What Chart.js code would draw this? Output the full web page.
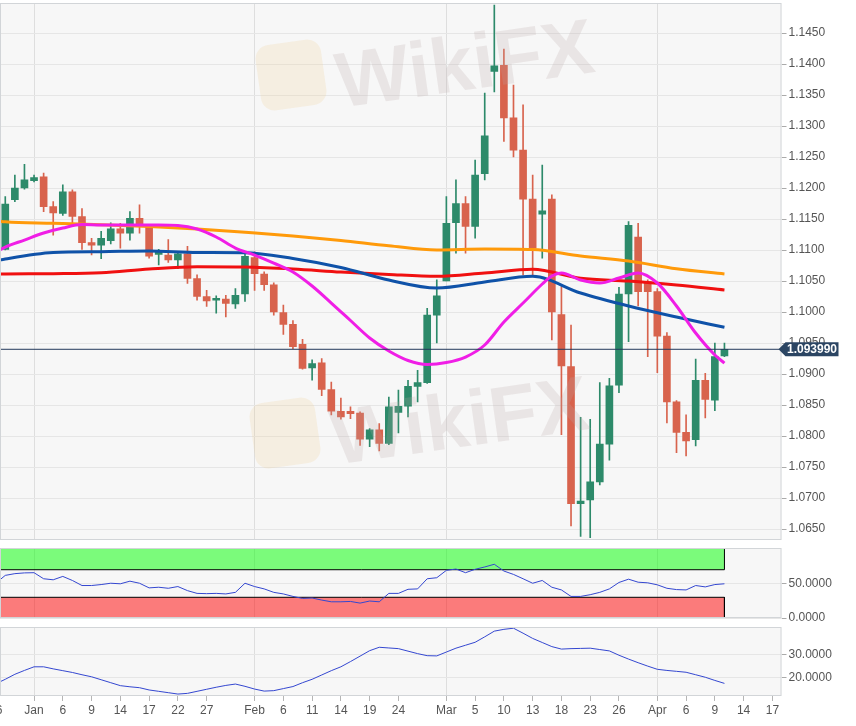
<!DOCTYPE html>
<html>
<head>
<meta charset="utf-8">
<script src="https://cdn.jsdelivr.net/npm/chart.js@4.4.0/dist/chart.umd.min.js"></script>
<style>
  body { margin: 0; width: 856px; height: 726px; overflow: hidden; position: relative; background: #fff;
         font-family: "Liberation Sans", Arial, sans-serif; }
  .pane { position: absolute; left: 0; width: 856px; }
  .wm { position: absolute; font: bold 78px "Liberation Sans", Arial, sans-serif; color: rgba(185, 170, 170, 0.22);
        transform: rotate(-8deg); pointer-events: none; white-space: nowrap; }
  .wm-logo { position: absolute; width: 66px; height: 66px; border-radius: 14px; background: rgba(240, 205, 140, 0.2);
             transform: rotate(-8deg); }
</style>
</head>
<body>
<div class="pane" style="top:0;height:541px"><canvas id="price-chart"></canvas></div>
<div class="pane" style="top:548px;height:78px"><canvas id="rsi-chart"></canvas></div>
<div class="pane" style="top:627px;height:99px"><canvas id="adx-chart"></canvas></div>
<div class="wm-logo" style="left:258px;top:42px"></div>
<div class="wm" style="left:335px;top:18px">WikiFX</div>
<div class="wm-logo" style="left:252px;top:400px"></div>
<div class="wm" style="left:330px;top:375px">WikiFX</div>
<script>
// --- Eixo: dias de negociação ---
const days = ['2019-12-26','2019-12-27','2019-12-30','2019-12-31',
  '2020-01-01','2020-01-02','2020-01-03','2020-01-06','2020-01-07','2020-01-08','2020-01-09','2020-01-10',
  '2020-01-13','2020-01-14','2020-01-15','2020-01-16','2020-01-17','2020-01-20','2020-01-21','2020-01-22',
  '2020-01-23','2020-01-24','2020-01-27','2020-01-28','2020-01-29','2020-01-30','2020-01-31',
  '2020-02-03','2020-02-04','2020-02-05','2020-02-06','2020-02-07','2020-02-10','2020-02-11','2020-02-12',
  '2020-02-13','2020-02-14','2020-02-17','2020-02-18','2020-02-19','2020-02-20','2020-02-21','2020-02-24',
  '2020-02-25','2020-02-26','2020-02-27','2020-02-28',
  '2020-03-02','2020-03-03','2020-03-04','2020-03-05','2020-03-06','2020-03-09','2020-03-10','2020-03-11',
  '2020-03-12','2020-03-13','2020-03-16','2020-03-17','2020-03-18','2020-03-19','2020-03-20','2020-03-23',
  '2020-03-24','2020-03-25','2020-03-26','2020-03-27','2020-03-30','2020-03-31',
  '2020-04-01','2020-04-02','2020-04-03','2020-04-06','2020-04-07','2020-04-08','2020-04-09','2020-04-10',
  '2020-04-13','2020-04-14','2020-04-15','2020-04-16','2020-04-17','2020-04-20'];

const tickDays = ['2019-12-26','2020-01-01','2020-01-06','2020-01-09','2020-01-14','2020-01-17','2020-01-22',
  '2020-01-27','2020-02-03','2020-02-06','2020-02-11','2020-02-14','2020-02-19','2020-02-24','2020-03-02',
  '2020-03-05','2020-03-10','2020-03-13','2020-03-18','2020-03-23','2020-03-26','2020-04-01','2020-04-06',
  '2020-04-09','2020-04-14','2020-04-17'];
const tickLabels = ['26','Jan','6','9','14','17','22','27','Feb','6','11','14','19','24','Mar','5','10','13',
  '18','23','26','Apr','6','9','14','17'];

// --- Velas (a partir de 27/12) ---
const firstCandle = '2019-12-27';
const opens = [1.1101,1.1181,1.1200,1.1212,1.1218,1.1170,1.1159,1.1194,1.1154,1.1112,1.1108,1.1115,1.1134,
  1.1127,1.1151,1.1138,1.1093,1.1092,1.1084,1.1094,1.1054,1.1025,1.1019,1.1021,1.1013,1.1029,1.1088,1.1061,
  1.1044,1.0999,1.0980,1.0948,1.0910,1.0918,1.0875,1.0840,1.0840,1.0837,1.0795,1.0810,1.0788,1.0838,1.0848,
  1.0880,1.0886,1.0995,1.1050,1.1144,1.1175,1.1138,1.1223,1.1388,1.1398,1.1313,1.1261,1.1182,1.1158,1.1182,
  1.0996,1.0912,1.0691,1.0697,1.0726,1.0787,1.0882,1.1029,1.1121,1.1049,1.1033,1.0961,1.0855,1.0806,1.0794,
  1.0890,1.0858,1.0929];
const highs = [1.1186,1.1221,1.1238,1.1221,1.1224,1.1178,1.1205,1.1197,1.1167,1.1119,1.1130,1.1144,1.1143,
  1.1162,1.1173,1.1140,1.1101,1.1117,1.1096,1.1106,1.1060,1.1035,1.1026,1.1027,1.1038,1.1095,1.1097,1.1065,
  1.1047,1.1011,1.0986,1.0956,1.0923,1.0925,1.0887,1.0861,1.0847,1.0839,1.0812,1.0820,1.0863,1.0874,1.0890,
  1.0906,1.1006,1.1052,1.1186,1.1213,1.1186,1.1245,1.1353,1.1495,1.1424,1.1366,1.1334,1.1221,1.1237,1.1189,
  1.1041,1.0979,1.0830,1.0827,1.0886,1.0893,1.1040,1.1146,1.1143,1.1052,1.1038,1.0967,1.0857,1.0834,1.0924,
  1.0901,1.0950,1.0950];
const lows = [1.1100,1.1178,1.1198,1.1210,1.1162,1.1124,1.1156,1.1140,1.1101,1.1092,1.1086,1.1110,1.1103,
  1.1116,1.1127,1.1087,1.1076,1.1080,1.1070,1.1046,1.1019,1.1009,1.0998,1.0992,1.1006,1.1017,1.1035,1.1035,
  1.0995,1.0964,1.0941,1.0908,1.0890,1.0865,1.0834,1.0827,1.0828,1.0785,1.0783,1.0776,1.0786,1.0805,1.0831,
  1.0855,1.0885,1.0950,1.1050,1.1095,1.1095,1.1119,1.1213,1.1355,1.1275,1.1250,1.1060,1.1057,1.1087,1.0955,
  1.0802,1.0655,1.0638,1.0636,1.0721,1.0761,1.0870,1.0952,1.1010,1.0928,1.0902,1.0821,1.0773,1.0768,1.0784,
  1.0829,1.0841,1.0928];
const closes = [1.1174,1.1200,1.1213,1.1217,1.1170,1.1160,1.1194,1.1154,1.1112,1.1108,1.1119,1.1134,1.1127,
  1.1151,1.1138,1.1090,1.1095,1.1084,1.1094,1.1054,1.1025,1.1018,1.1021,1.1014,1.1027,1.1090,1.1062,1.1044,
  1.1000,1.0980,1.0944,1.0909,1.0917,1.0875,1.0840,1.0831,1.0836,1.0795,1.0810,1.0788,1.0847,1.0848,1.0880,
  1.0886,1.0995,1.1026,1.1143,1.1175,1.1138,1.1221,1.1284,1.1397,1.1313,1.1261,1.1182,1.1103,1.1163,1.1000,
  1.0913,1.0691,1.0695,1.0726,1.0787,1.0881,1.1029,1.1140,1.1033,1.1033,1.0961,1.0855,1.0806,1.0792,1.0890,
  1.0859,1.0928,1.093990];

// --- Médias móveis ---
const slowMaDays = [0, 1, 6, 11, 16, 21, 26, 31, 36, 41, 46, 51, 56, 61, 66, 71, 76];
const sma200 = [1.11476,1.11455,1.11431,1.11408,1.11379,1.11339,1.11285,1.11226,1.11153,1.11069,1.11000,
  1.11016,1.11008,1.10903,1.10823,1.10698,1.10613];
const sma100 = [1.10610,1.10613,1.10618,1.10634,1.10694,1.10731,1.10726,1.10694,1.10645,1.10605,1.10576,
  1.10629,1.10689,1.10544,1.10500,1.10435,1.10355];
const sma50 = [1.10823,1.10855,1.10960,1.10973,1.10984,1.10960,1.10957,1.10863,1.10718,1.10516,1.10387,
  1.10484,1.10575,1.10306,1.10097,1.09919,1.09753];
const sma20Days = [0,1,3,5,7,9,11,13,15,17,19,21,23,25,27,29,31,33,35,37,39,41,43,45,47,49,51,53,55,57,58,59,
  61,63,65,67,69,71,73,75,76];
const sma20 = [1.10968,1.11048,1.11161,1.11274,1.11355,1.11411,1.11403,1.11403,1.11403,1.11403,1.11395,1.11339,
  1.11210,1.11032,1.10919,1.10790,1.10645,1.10419,1.10145,1.09863,1.09581,1.09371,1.09218,1.09153,1.09185,
  1.09274,1.09468,1.09839,1.10145,1.10452,1.10581,1.10629,1.10516,1.10468,1.10548,1.10629,1.10468,1.10097,
  1.09661,1.09306,1.09177];

// --- Indicadores (a partir de 26/12) ---
const rsi = [50.3,61.8,64.3,65.4,65.7,56.9,55.4,60.3,54.4,47.1,47.1,48.5,50.4,49.6,53.4,50.4,43.7,44.6,43.1,
  45.6,39.7,35.7,35.3,35.7,34.9,37.2,50.4,45.6,42.2,37.2,34.9,31.3,28.4,29.0,26.0,23.5,23.5,24.0,21.6,24.6,
  23.5,35.7,35.7,41.6,42.2,56.9,58.4,69.1,71.0,65.7,70.6,74.0,77.9,68.1,63.2,56.9,50.4,54.4,44.6,40.7,31.3,
  31.3,33.8,37.2,42.2,51.5,56.3,51.9,51.0,48.1,43.1,41.2,40.7,47.1,45.1,48.5,49.6];
const adx = [17.3,19.3,21.5,23.2,24.8,24.8,23.9,23.1,22.3,21.3,20.4,19.1,17.8,16.5,16.0,15.6,14.6,14.0,13.4,
  12.8,13.1,14.0,14.9,15.8,16.6,17.2,16.2,15.0,14.1,14.3,15.2,16.1,17.8,19.3,21.2,23.1,24.8,27.1,29.5,31.9,
  33.4,33.1,32.8,31.7,30.6,29.7,29.6,31.3,33.0,34.3,35.6,38.0,40.5,41.3,41.8,39.6,37.3,35.5,33.7,32.6,32.8,
  32.9,33.0,32.4,31.8,29.9,28.2,26.6,25.1,23.7,23.2,22.8,22.4,21.3,20.2,18.8,17.5];
const rsiBands = [30, 70];
const rsiTop = 100;

// --- Ticks dos eixos Y ---
const priceTicks = [1.065,1.070,1.075,1.080,1.085,1.090,1.095,1.100,1.105,1.110,1.115,1.120,1.125,1.130,
  1.135,1.140,1.145];
const rsiTicks = [0, 50];
const adxTicks = [20, 30];

// --- Helpers ---
const first = days.indexOf(firstCandle);
const lastIdx = first + closes.length - 1;
const lastClose = closes[closes.length - 1];
const tickIdx = tickDays.map(d => days.indexOf(d));
const monthIdx = tickIdx.filter((_, i) => isNaN(Number(tickLabels[i])));
const xy = (xs, ys) => xs.map((x, i) => ({ x: x, y: ys[i] }));
const GREEN = '#2d8a6a';
const RED = '#d8634d';
const candleColor = (ctx) => closes[ctx.dataIndex] >= opens[ctx.dataIndex] ? GREEN : RED;
const FONT = { family: '"Liberation Sans", Arial, sans-serif', size: 12 };

// sem padding automático dos rótulos: a área do gráfico fica onde o layout manda
const noPad = (s) => { s.paddingLeft = 0; s.paddingRight = 0; s.paddingTop = 0; s.paddingBottom = 0; };

const panelFrame = {
    id: 'panelFrame',
    beforeDraw(chart) {
        const { ctx, chartArea: a } = chart;
        ctx.save();
        ctx.fillStyle = '#f7f7f7';
        ctx.fillRect(a.left, a.top, a.width, a.height);
        ctx.restore();
    },
    afterDraw(chart) {
        const { ctx, chartArea: a } = chart;
        ctx.save();
        ctx.strokeStyle = '#d2d5d8';
        ctx.lineWidth = 1;
        ctx.strokeRect(a.left + 0.5, a.top + 0.5, a.width - 1, a.height - 1);
        ctx.restore();
    }
};

const priceTag = {
    id: 'priceTag',
    afterDraw(chart) {
        const y = chart.scales.y.getPixelForValue(lastClose);
        const x = chart.chartArea.right;
        const ctx = chart.ctx;
        ctx.save();
        ctx.fillStyle = '#2b4563';
        ctx.beginPath();
        ctx.moveTo(x - 3, y);
        ctx.lineTo(x + 4, y - 7);
        ctx.lineTo(x + 57, y - 7);
        ctx.lineTo(x + 57, y + 7);
        ctx.lineTo(x + 4, y + 7);
        ctx.closePath();
        ctx.fill();
        ctx.fillStyle = '#fff';
        ctx.font = 'bold 12px "Liberation Sans", Arial, sans-serif';
        ctx.textAlign = 'center';
        ctx.textBaseline = 'middle';
        ctx.fillText(lastClose.toFixed(6), x + 30.5, y + 0.5);
        ctx.restore();
    }
};

const xScale = (showLabels) => ({
    type: 'linear',
    min: 0.45,
    max: 81.95,
    offset: false,
    afterBuildTicks: (s) => { s.ticks = tickIdx.map(v => ({ value: v })); },
    afterFit: (s) => { s.height = showLabels ? 30 : 0; noPad(s); },
    border: { display: false },
    grid: {
        offset: false,
        color: (c) => c.tick && monthIdx.includes(c.tick.value) ? '#dedede' : 'rgba(0,0,0,0)',
        drawTicks: showLabels,
        tickColor: '#b5b5b5',
        tickLength: 5
    },
    ticks: {
        display: showLabels,
        autoSkip: false,
        maxRotation: 0,
        padding: 2,
        color: '#555',
        font: FONT,
        callback: (v, i) => tickLabels[i]
    }
});

const yScale = (min, max, ticks, digits) => ({
    position: 'right',
    min: min,
    max: max,
    afterBuildTicks: (s) => { s.ticks = ticks.map(v => ({ value: v })); },
    afterFit: (s) => { s.width = 74.5; noPad(s); },
    border: { display: false },
    grid: { color: '#e6e6e6', tickColor: '#aaa', tickLength: 5 },
    ticks: { color: '#555', font: FONT, padding: 2, callback: (v) => Number(v).toFixed(digits) }
});

const baseOptions = (scales, padding) => ({
    responsive: true,
    maintainAspectRatio: false,
    animation: false,
    layout: { padding: padding, autoPadding: false },
    plugins: { legend: { display: false }, tooltip: { enabled: false } },
    scales: scales
});

const maLine = (xs, ys, color) => ({
    type: 'line',
    data: xy(xs, ys),
    borderColor: color,
    borderWidth: 3,
    pointRadius: 0,
    cubicInterpolationMode: 'monotone',
    order: 1
});

// --- Gráfico de preço ---
new Chart(document.getElementById('price-chart'), {
    type: 'bar',
    data: {
        datasets: [
            {
                type: 'line',
                data: [{ x: 0, y: lastClose }, { x: days.length - 1, y: lastClose }],
                borderColor: '#23395b', borderWidth: 1, pointRadius: 0, order: 0
            },
            maLine(sma20Days, sma20, '#f01ee6'),
            maLine(slowMaDays, sma50, '#0f52a8'),
            maLine(slowMaDays, sma100, '#f01010'),
            maLine(slowMaDays, sma200, '#ff9a0a'),
            {
                data: opens.map((o, i) => ({ x: first + i, y: [o, closes[i]] })),
                backgroundColor: candleColor,
                barThickness: 7, minBarLength: 2, grouped: false, order: 2
            },
            {
                data: lows.map((l, i) => ({ x: first + i, y: [l, highs[i]] })),
                backgroundColor: candleColor,
                barThickness: 1, grouped: false, order: 3
            }
        ]
    },
    options: baseOptions({ x: xScale(false), y: yScale(1.06323, 1.14984, priceTicks, 4) },
        { top: 3, bottom: 1, left: 0, right: 0 }),
    plugins: [panelFrame, priceTag]
});

// --- RSI ---
new Chart(document.getElementById('rsi-chart'), {
    type: 'line',
    data: {
        datasets: [
            { data: rsi.map((v, i) => ({ x: i, y: v })), borderColor: '#3447d0', borderWidth: 1, pointRadius: 0, order: 0 },
            {
                data: [{ x: 0, y: rsiBands[1] }, { x: lastIdx, y: rsiBands[1] }, { x: lastIdx, y: rsiTop }],
                borderColor: '#000', borderWidth: 1, pointRadius: 0,
                fill: { value: rsiTop }, backgroundColor: 'rgba(0, 255, 0, 0.5)', order: 1
            },
            {
                data: [{ x: 0, y: rsiBands[0] }, { x: lastIdx, y: rsiBands[0] }, { x: lastIdx, y: 0 }],
                borderColor: '#000', borderWidth: 1, pointRadius: 0,
                fill: { value: 0 }, backgroundColor: 'rgba(255, 0, 0, 0.5)', order: 1
            }
        ]
    },
    options: baseOptions({ x: xScale(false), y: yScale(0, 101.5, rsiTicks, 4) },
        { top: 0, bottom: 8, left: 0, right: 0 }),
    plugins: [panelFrame]
});

// --- ADX ---
new Chart(document.getElementById('adx-chart'), {
    type: 'line',
    data: {
        datasets: [
            { data: adx.map((v, i) => ({ x: i, y: v })), borderColor: '#3447d0', borderWidth: 1, pointRadius: 0 }
        ]
    },
    options: baseOptions({ x: xScale(true), y: yScale(11.94, 42.33, adxTicks, 4) },
        { top: 0, bottom: 0, left: 0, right: 0 }),
    plugins: [panelFrame]
});
</script>
</body>
</html>
